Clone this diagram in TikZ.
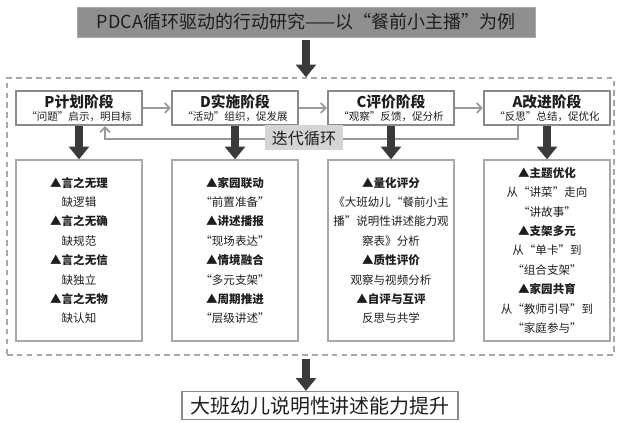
\documentclass[tikz,border=0pt]{standalone}
\usepackage{fontspec}
\setmainfont{Noto Sans CJK SC}
\usetikzlibrary{arrows.meta, positioning}

\definecolor{ink}{HTML}{1E1E1E}
\definecolor{darkg}{HTML}{3A3A3A}
\definecolor{arrowg}{HTML}{9A9A9A}
\definecolor{frameg}{HTML}{8A8A8A}
\definecolor{lineg}{HTML}{A8A8A8}
\definecolor{titleg}{HTML}{8F8F8F}
\definecolor{cycg}{HTML}{D5D5D5}

\begin{document}
\begin{tikzpicture}[>=latex, text=ink, font=\fontsize{8.2pt}{13.8pt}\selectfont,
		stage/.style={draw=frameg, line width=1.6pt, fill=white, minimum width=3.15cm,
			minimum height=0.85cm, align=center, inner sep=1pt,
			font=\fontsize{7.5pt}{9.5pt}\selectfont},
		detail/.style={draw=lineg, line width=0.9pt, minimum width=3.15cm,
			minimum height=4.525cm, align=center},
		flow/.style={draw=arrowg, line width=1.3pt, -{Straight Barb[length=3.5pt,width=7pt]}},
		bigdown/.style={draw=darkg, line width=5.5pt, -{Triangle[width=14pt,length=9pt]}}]
		
		\useasboundingbox (0,0) rectangle (15.5,10.575);
		
		% --- Titel oben
		\node[fill=titleg, draw=lineg, minimum width=11.45cm, minimum height=0.75cm,
			font=\fontsize{12.8pt}{14pt}\selectfont] (title) at (7.65,10.025)
			{PDCA循环驱动的行动研究——以“餐前小主播”为例};
		
		% --- gestrichelter Rahmen
		\node[draw=lineg, dash pattern=on 4pt off 3pt, line width=1pt,
			minimum width=15.175cm, minimum height=6.925cm] (frame) at (7.7625,5.1625) {};
		
		\draw[bigdown] ([yshift=-2pt]title.south) -- (title.south |- frame.north);
		
		% --- vier Phasen
		\node[stage] (p) at (1.975,7.875) {{\fontsize{10.5pt}{12pt}\selectfont\bfseries P计划阶段}\\“问题”启示，明目标};
		\node[stage] (d) at (5.875,7.875) {{\fontsize{10.5pt}{12pt}\selectfont\bfseries D实施阶段}\\“活动”组织，促发展};
		\node[stage] (c) at (9.775,7.875) {{\fontsize{10.5pt}{12pt}\selectfont\bfseries C评价阶段}\\“观察”反馈，促分析};
		\node[stage] (a) at (13.675,7.875) {{\fontsize{10.5pt}{12pt}\selectfont\bfseries A改进阶段}\\“反思”总结，促优化};
		
		\draw[flow] (p) -- (d);
		\draw[flow] (d) -- (c);
		\draw[flow] (c) -- (a);
		
		% Rueckfuehrung A -> P
		\draw[flow] ([xshift=-0.725cm]a.south) -- ++(0,-0.325) -| ([xshift=0.65cm]p.south);
		\node[fill=cycg, minimum width=1.95cm, minimum height=0.625cm, inner sep=1pt,
			font=\fontsize{11.4pt}{13pt}\selectfont] (loop) at (7.6,7.125) {迭代循环};
		
		% --- Inhalte der Phasen
		\node[detail] (p1) at (1.975,4.3125) {\textbf{▲言之无理}\\缺逻辑\\\textbf{▲言之无确}\\缺规范\\
			\textbf{▲言之无信}\\缺独立\\\textbf{▲言之无物}\\缺认知};
		\node[detail] (d1) at (5.875,4.3125) {\textbf{▲家园联动}\\“前置准备”\\\textbf{▲讲述播报}\\“现场表达”\\
			\textbf{▲情境融合}\\“多元支架”\\\textbf{▲周期推进}\\“层级讲述”};
		\node[detail] (c1) at (9.775,4.3125) {\textbf{▲量化评分}\\《大班幼儿“餐前小主\\播”说明性讲述能力观\\察表》分析\\
			\textbf{▲质性评价}\\观察与视频分析\\\textbf{▲自评与互评}\\反思与共学};
		\node[detail] (a1) at (13.675,4.3125) {\textbf{▲主题优化}\\从“讲菜”走向\\“讲故事”\\\textbf{▲支架多元}\\
			从“单卡”到\\“组合支架”\\\textbf{▲家园共育}\\从“教师引导”到\\“家庭参与”};
		
		\draw[bigdown] (p) -- (p1);
		\draw[bigdown] (d) -- (d1);
		\draw[bigdown] (c) -- (c1);
		\draw[bigdown] (a) -- (a1);
		
		% --- Ergebnis unten
		\node[draw=frameg, line width=1pt, minimum width=6.9cm, minimum height=0.625cm,
			font=\fontsize{14.2pt}{16pt}\selectfont] (goal) at (8.0,0.4375) {大班幼儿说明性讲述能力提升};
		
		\draw[bigdown] ([yshift=-2pt]frame.south -| title.south) -- (goal.north -| title.south);
		
	\end{tikzpicture}
\end{document}
